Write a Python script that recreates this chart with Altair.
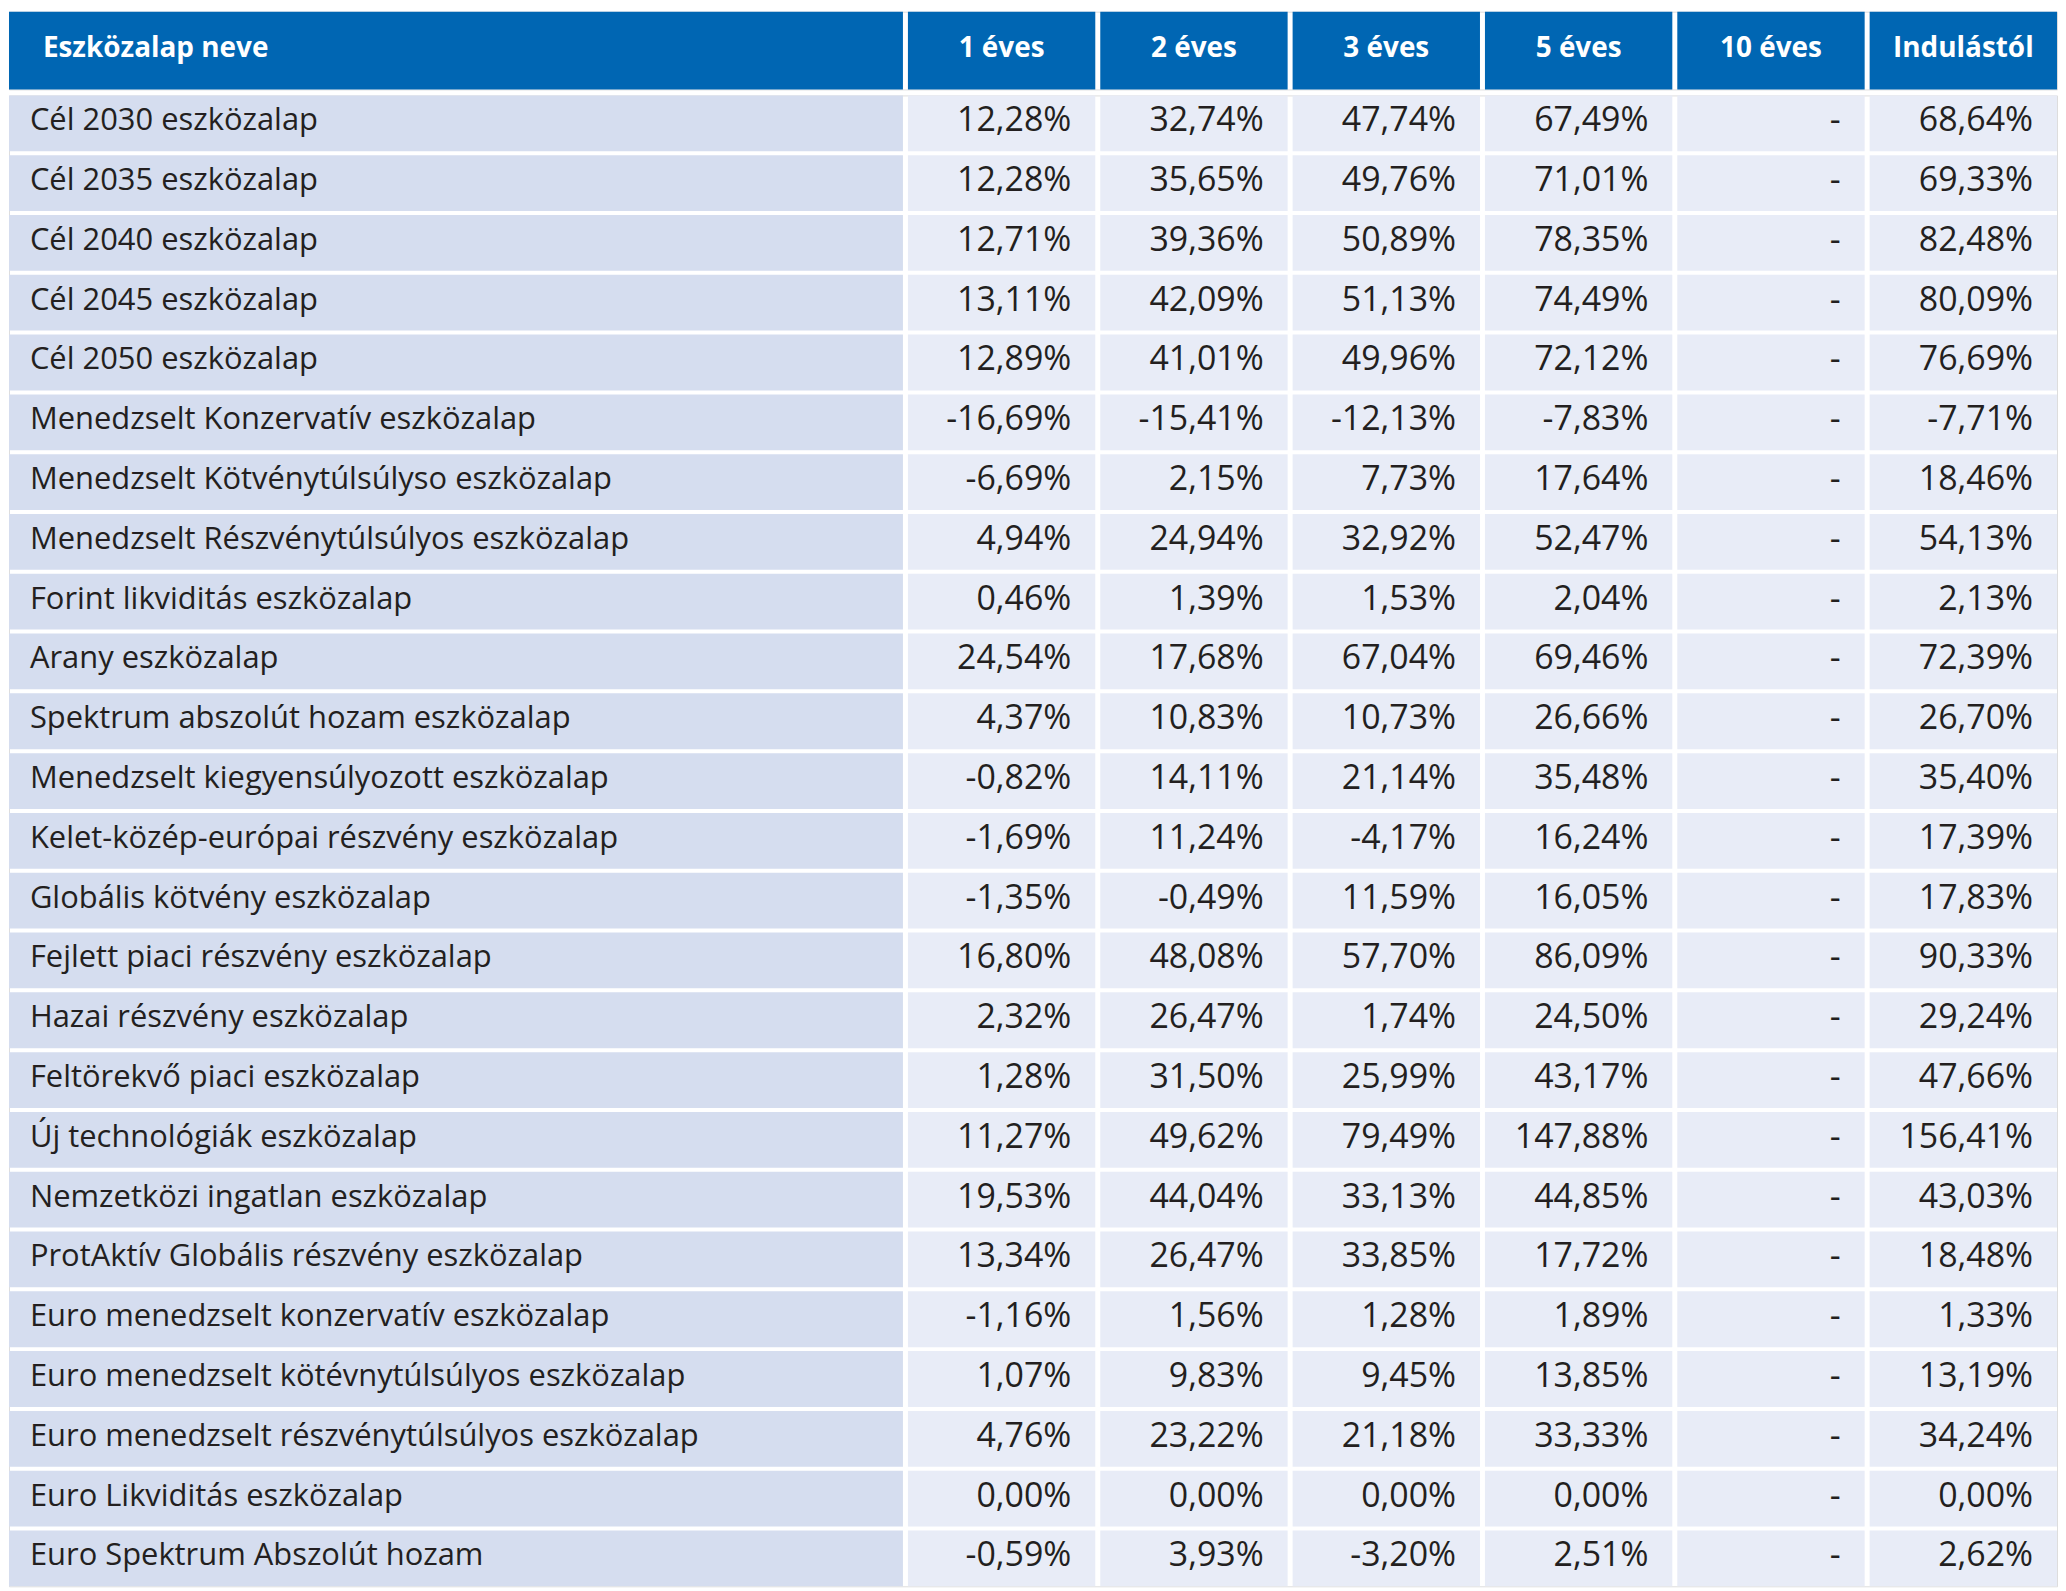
import altair as alt
import pandas as pd

# ---------------- data ----------------
headers = ["Eszközalap neve", "1 éves", "2 éves", "3 éves", "5 éves", "10 éves", "Indulástól"]

funds = [
    "Cél 2030 eszközalap",
    "Cél 2035 eszközalap",
    "Cél 2040 eszközalap",
    "Cél 2045 eszközalap",
    "Cél 2050 eszközalap",
    "Menedzselt Konzervatív eszközalap",
    "Menedzselt Kötvénytúlsúlyso eszközalap",
    "Menedzselt Részvénytúlsúlyos eszközalap",
    "Forint likviditás eszközalap",
    "Arany eszközalap",
    "Spektrum abszolút hozam eszközalap",
    "Menedzselt kiegyensúlyozott eszközalap",
    "Kelet-közép-európai részvény eszközalap",
    "Globális kötvény eszközalap",
    "Fejlett piaci részvény eszközalap",
    "Hazai részvény eszközalap",
    "Feltörekvő piaci eszközalap",
    "Új technológiák eszközalap",
    "Nemzetközi ingatlan eszközalap",
    "ProtAktív Globális részvény eszközalap",
    "Euro menedzselt konzervatív eszközalap",
    "Euro menedzselt kötévnytúlsúlyos eszközalap",
    "Euro menedzselt részvénytúlsúlyos eszközalap",
    "Euro Likviditás eszközalap",
    "Euro Spektrum Abszolút hozam",
]

y1 = [12.28, 12.28, 12.71, 13.11, 12.89, -16.69, -6.69, 4.94, 0.46, 24.54, 4.37, -0.82, -1.69,
      -1.35, 16.80, 2.32, 1.28, 11.27, 19.53, 13.34, -1.16, 1.07, 4.76, 0.00, -0.59]
y2 = [32.74, 35.65, 39.36, 42.09, 41.01, -15.41, 2.15, 24.94, 1.39, 17.68, 10.83, 14.11, 11.24,
      -0.49, 48.08, 26.47, 31.50, 49.62, 44.04, 26.47, 1.56, 9.83, 23.22, 0.00, 3.93]
y3 = [47.74, 49.76, 50.89, 51.13, 49.96, -12.13, 7.73, 32.92, 1.53, 67.04, 10.73, 21.14, -4.17,
      11.59, 57.70, 1.74, 25.99, 79.49, 33.13, 33.85, 1.28, 9.45, 21.18, 0.00, -3.20]
y5 = [67.49, 71.01, 78.35, 74.49, 72.12, -7.83, 17.64, 52.47, 2.04, 69.46, 26.66, 35.48, 16.24,
      16.05, 86.09, 24.50, 43.17, 147.88, 44.85, 17.72, 1.89, 13.85, 33.33, 0.00, 2.51]
y10 = [None] * len(funds)
since_start = [68.64, 69.33, 82.48, 80.09, 76.69, -7.71, 18.46, 54.13, 2.13, 72.39, 26.70, 35.40, 17.39,
               17.83, 90.33, 29.24, 47.66, 156.41, 43.03, 18.48, 1.33, 13.19, 34.24, 0.00, 2.62]

value_cols = [y1, y2, y3, y5, y10, since_start]

# ---------------- layout ----------------
W = 2055
HEADER_H = 78
ROW_STEP = 60
ROW_GAP = 4
BODY_H = len(funds) * ROW_STEP - ROW_GAP
NAME_W = 897
VAL_W = 188
GAP = 5
NAME_PAD = 21
VAL_PAD = 24
HDR_PAD = 34

FONT = "Open Sans"
BLUE = "#0066B3"
NAME_BG = "#D5DDEF"
VAL_BG = "#E8ECF7"
TXT = "#231F20"

col_x0, col_x1 = [], []
pos = 0
for i in range(len(headers)):
    w = NAME_W if i == 0 else VAL_W
    col_x0.append(pos)
    col_x1.append(pos + w)
    pos += w + GAP

xscale = alt.Scale(domain=[0, W], range=[0, W], nice=False, zero=False)


def fmt(v):
    if v is None:
        return "-"
    return f"{v:.2f}".replace(".", ",") + "%"


# header table
hdr = pd.DataFrame({
    "label": headers,
    "x0": col_x0,
    "x1": col_x1,
    "xl": [x + HDR_PAD for x in col_x0],
    "xc": [(a + b) / 2 for a, b in zip(col_x0, col_x1)],
    "row": ["h"] * len(headers),
    "first": [i == 0 for i in range(len(headers))],
})

hy = alt.Y("row:N", axis=None, scale=alt.Scale(paddingInner=0, paddingOuter=0))
hbase = alt.Chart(hdr)
h_rect = hbase.mark_rect(color=BLUE).encode(
    x=alt.X("x0:Q", scale=xscale, axis=None), x2="x1:Q", y=hy
)
h_text_left = hbase.transform_filter("datum.first").mark_text(
    align="left", baseline="middle", font=FONT, fontSize=28, fontWeight="bold", color="white", dy=-2
).encode(x=alt.X("xl:Q", scale=xscale, axis=None), y=hy, text="label:N")
h_text_center = hbase.transform_filter("!datum.first").mark_text(
    align="center", baseline="middle", font=FONT, fontSize=28, fontWeight="bold", color="white", dy=-2
).encode(x=alt.X("xc:Q", scale=xscale, axis=None), y=hy, text="label:N")

header = alt.layer(h_rect, h_text_left, h_text_center).properties(width=W, height=HEADER_H)

# body table
rows = []
for r, name in enumerate(funds):
    rows.append({"fund": name, "kind": "name", "x0": col_x0[0], "x1": col_x1[0],
                 "tx": col_x0[0] + NAME_PAD, "label": name, "left": True})
    for c, vals in enumerate(value_cols, start=1):
        rows.append({"fund": name, "kind": "val", "x0": col_x0[c], "x1": col_x1[c],
                     "tx": col_x1[c] - VAL_PAD, "label": fmt(vals[r]), "left": False})
body_df = pd.DataFrame(rows)

by = alt.Y("fund:N", sort=funds, axis=None,
           scale=alt.Scale(paddingInner=ROW_GAP / ROW_STEP, paddingOuter=0))
bbase = alt.Chart(body_df)
b_rect = bbase.mark_rect().encode(
    x=alt.X("x0:Q", scale=xscale, axis=None), x2="x1:Q", y=by,
    color=alt.Color("kind:N", legend=None,
                    scale=alt.Scale(domain=["name", "val"], range=[NAME_BG, VAL_BG])),
)
b_text_left = bbase.transform_filter("datum.left").mark_text(
    align="left", baseline="middle", font=FONT, fontSize=31, color=TXT, dy=-2
).encode(x=alt.X("tx:Q", scale=xscale, axis=None), y=by, text="label:N")
b_text_right = bbase.transform_filter("!datum.left").mark_text(
    align="right", baseline="middle", font=FONT, fontSize=34, color=TXT, dy=-2
).encode(x=alt.X("tx:Q", scale=xscale, axis=None), y=by, text="label:N")

body = alt.layer(b_rect, b_text_left, b_text_right).properties(width=W, height=BODY_H)

chart = alt.vconcat(header, body, spacing=ROW_GAP, padding=0).configure_view(
    stroke=None
).configure(background="white")

chart.save("out.html", embed_options={"renderer": "svg", "actions": False})
